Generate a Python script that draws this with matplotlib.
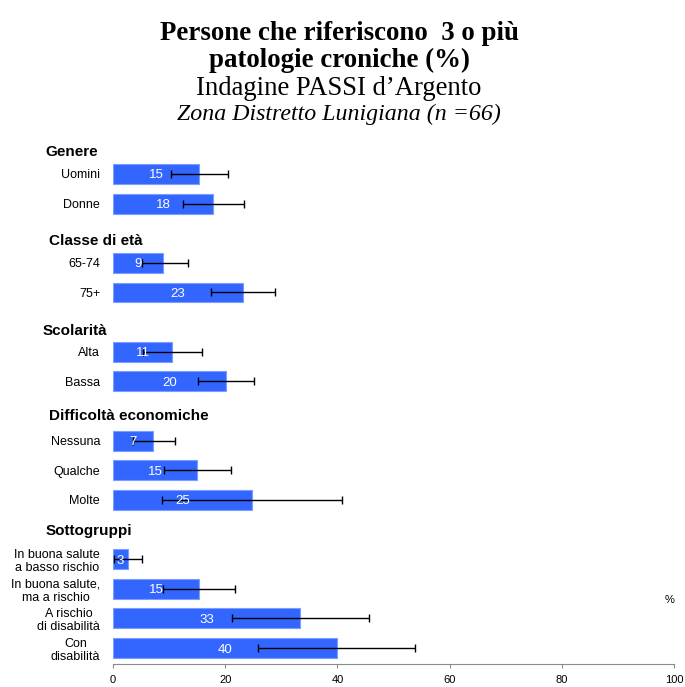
import numpy as np
import matplotlib.pyplot as plt

plt.rcParams['font.family'] = ['Liberation Sans', 'DejaVu Sans']

# groups and their categories
groups = ["Genere", "Classe di età", "Scolarità", "Difficoltà economiche", "Sottogruppi"]
categories = [
    ["Uomini", "Donne"],
    ["65-74", "75+"],
    ["Alta", "Bassa"],
    ["Nessuna", "Qualche", "Molte"],
    ["In buona salute\na basso rischio", "In buona salute,\nma a rischio",
     "A rischio\ndi disabilità", "Con\ndisabilità"],
]
# prevalence (%) with 95% confidence limits
values = [
    [15.4, 17.9],
    [9.0, 23.1],
    [10.6, 20.1],
    [7.1, 15.0, 24.7],
    [2.6, 15.4, 33.4, 39.9],
]
ci_low = [
    [10.4, 12.5],
    [5.1, 17.4],
    [5.4, 15.1],
    [3.6, 9.1, 8.7],
    [0.2, 9.0, 21.2, 25.9],
]
ci_high = [
    [20.5, 23.4],
    [13.4, 28.9],
    [15.8, 25.1],
    [11.1, 21.0, 40.8],
    [5.2, 21.7, 45.6, 53.9],
]
header_offset = [0.78, 0.78, 0.74, 0.88, 1.0]
header_x = [-12.1, -11.4, -12.5, -11.4, -12.1]

fig = plt.figure(figsize=(6.85, 6.87), dpi=100)
ax = fig.add_axes([113 / 685, 1 - 664 / 687, 561 / 685, (664 - 130) / 687])

bar_color = "#3366FF"
edge_color = "#7a9dff"

pos = 0
for g, name in enumerate(groups):
    ys = np.arange(pos, pos + len(values[g]))
    v = np.array(values[g])
    lo = v - np.array(ci_low[g])
    hi = np.array(ci_high[g]) - v
    ax.barh(ys, v, height=0.67, color=bar_color, edgecolor=edge_color, linewidth=0.8)
    ax.errorbar(v, ys, xerr=[lo, hi], fmt="none", ecolor="black",
                elinewidth=1.0, capsize=3, capthick=1.0)
    for y, val, lab in zip(ys, v, categories[g]):
        ax.text(val / 2, y, f"{val:.0f}", color="white", fontsize=9.5,
                ha="center", va="center_baseline")
        if "\n" in lab:
            ax.text(-2.3, y + 0.08, lab, fontsize=9, ha="right", va="center",
                    multialignment="center", linespacing=1.15)
        else:
            ax.text(-2.3, y, lab, fontsize=9, ha="right", va="center_baseline")
    ax.text(header_x[g], pos - header_offset[g], name, fontsize=11,
            fontweight="bold", ha="left", va="center_baseline")
    pos += len(values[g]) + 1

ax.set_xlim(0, 100)
ax.set_ylim(16.54, -1.485)
ax.set_yticks([])
for s in ("left", "top", "right"):
    ax.spines[s].set_visible(False)
ax.spines["bottom"].set_color("#8c8c8c")
ax.set_xticks(np.arange(0, 101, 20))
ax.tick_params(axis="x", length=3, color="#8c8c8c", labelsize=8, pad=5)

fig.text(670 / 685, 1 - 600 / 687, "%", fontsize=8, ha="center", va="center")

# titles
cx = 339 / 685
fig.text(cx, 1 - 40 / 687, "Persone che riferiscono  3 o più",
         family="Liberation Serif", fontweight="bold", fontsize=19.4, ha="center", va="baseline")
fig.text(cx, 1 - 67 / 687, "patologie croniche (%)",
         family="Liberation Serif", fontweight="bold", fontsize=19.4, ha="center", va="baseline")
fig.text(cx, 1 - 95 / 687, "Indagine PASSI d\u2019Argento",
         family="Liberation Serif", fontsize=19.2, ha="center", va="baseline")
fig.text(cx, 1 - 120 / 687, "Zona Distretto Lunigiana (n =66)",
         family="Liberation Serif", style="italic", fontsize=17.2, ha="center", va="baseline")

fig.savefig("out.png", dpi=100)
